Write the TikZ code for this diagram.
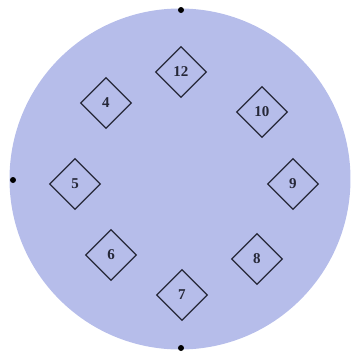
\documentclass[tikz,border=0pt]{standalone}
\usepackage{fontspec}
\setmainfont{Liberation Serif}
\usepackage{tikz}
\usetikzlibrary{shapes.geometric}
\definecolor{Disc}{HTML}{B6BDEA}
\definecolor{Ink}{HTML}{262838}
\tikzset{
  seatbox/.style={diamond,draw=Ink,line width=1.3pt,inner sep=0pt,
    minimum width=51pt,minimum height=51pt,shape aspect=1,
    font=\fontsize{15}{16}\selectfont\bfseries,text=Ink},
  dotmark/.style={circle,fill=black,inner sep=0pt,minimum size=6pt}
}
\begin{document}
\begin{tikzpicture}[x=1pt,y=-1pt]
  \useasboundingbox (0,0) rectangle (353,360);
  \fill[Disc] (180,179) circle[radius=170.5pt];
  \node[dotmark] (top) at (181,10) {};
  \node[dotmark] (left) at (13,180) {};
  \node[dotmark] (bottom) at (181,348) {};
  \foreach \x/\y/\lab in {
    181/72/12, 106/103/4, 262/112/10, 75/184/5,
    293/184/9, 111/255/6, 257/259/8, 182/295/7} {
    \node[seatbox] (seat\lab) at (\x,\y) {\lab};
  }
\end{tikzpicture}
\end{document}
